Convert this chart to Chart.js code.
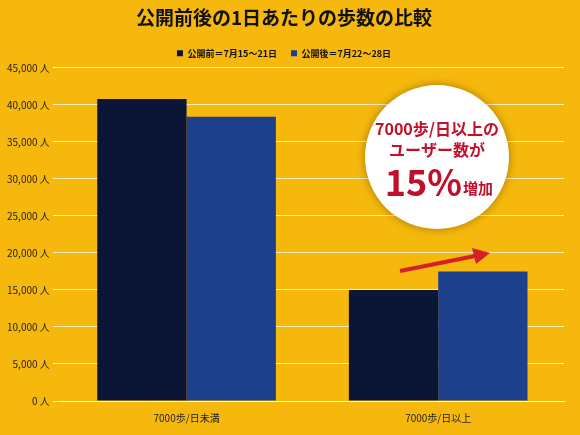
<!DOCTYPE html>
<html><head><meta charset="utf-8">
<script src="https://cdn.jsdelivr.net/npm/chart.js@4"></script>
<style>html,body{margin:0;padding:0;background:#F6B80C;}#w{width:580px;height:435px;}</style>
</head><body><div id="w"><canvas id="c" width="580" height="435"></canvas></div>
<script>
const categories = ["7000歩/日未満", "7000歩/日以上"];
const seriesNames = ["公開前＝7月15～21日", "公開後＝7月22～28日"];
const before = [40800, 15000];
const after = [38400, 17500];
const F = "'Noto Sans CJK JP', sans-serif";

const overlay = {
  id: 'overlay',
  afterDraw(chart) {
    const ctx = chart.ctx;
    ctx.save();
    ctx.beginPath();
    ctx.arc(437, 157, 72, 0, Math.PI*2);
    ctx.fillStyle = '#fff';
    ctx.shadowColor = 'rgba(0,0,0,0.35)'; ctx.shadowBlur = 8;
    ctx.fill();
    ctx.shadowBlur = 0;
    ctx.fillStyle = '#C0102A';
    ctx.textAlign = 'center'; ctx.textBaseline = 'middle';
    ctx.font = "bold 16px " + F;
    ctx.fillText('7000歩/日以上の', 437, 129);
    ctx.fillText('ユーザー数が', 437, 150);
    ctx.font = "bold 36px " + F;
    ctx.textAlign = 'right';
    ctx.fillText('15%', 462, 182);
    ctx.font = "bold 15px " + F;
    ctx.textAlign = 'left';
    ctx.fillText('増加', 463, 188);
    ctx.strokeStyle = '#D5202A'; ctx.fillStyle = '#D5202A'; ctx.lineWidth = 4;
    ctx.beginPath(); ctx.moveTo(400, 271); ctx.lineTo(475, 256); ctx.stroke();
    ctx.beginPath(); ctx.moveTo(490, 253); ctx.lineTo(472, 248); ctx.lineTo(476, 264); ctx.closePath(); ctx.fill();
    ctx.restore();
  }
};

new Chart(document.getElementById('c'), {
  type: 'bar',
  data: {
    labels: categories,
    datasets: [
      {label: seriesNames[0], data: before, backgroundColor: '#0B1535', categoryPercentage: 0.71, barPercentage: 1.0},
      {label: seriesNames[1], data: after, backgroundColor: '#1E3F8C', categoryPercentage: 0.71, barPercentage: 1.0}
    ]
  },
  options: {
    responsive: false, animation: false,
    layout: {padding: {left: 4, right: 16, bottom: 8}},
    plugins: {
      title: {display: true, text: '公開前後の1日あたりの歩数の比較', color: '#111', font: {family: F, size: 19, weight: 'bold'}, padding: {top: 6, bottom: 6}},
      legend: {labels: {boxWidth: 6, boxHeight: 6, color: '#111', font: {family: F, size: 9, weight: 'bold'}, padding: 14}},
      tooltip: {enabled: false}
    },
    scales: {
      x: {grid: {display: false}, border: {color: '#fff'}, ticks: {color: '#222', font: {family: F, size: 10}}},
      y: {min: 0, max: 45000, ticks: {stepSize: 5000, color: '#222', font: {family: F, size: 10},
            callback: v => v.toLocaleString('en-US') + ' 人'},
          grid: {color: 'rgba(255,255,255,0.75)'}, border: {display: false}}
    }
  },
  plugins: [overlay]
});
</script></body></html>
